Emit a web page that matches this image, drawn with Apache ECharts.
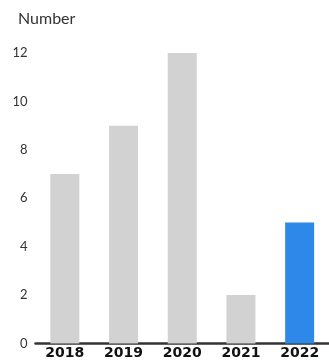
<!DOCTYPE html>
<html><head><meta charset="utf-8">
<script src="https://cdn.jsdelivr.net/npm/echarts@6/dist/echarts.min.js"></script>
<style>html,body{margin:0;padding:0;background:#fff}#c{width:329px;height:361px}</style>
</head><body><div id="c"></div>
<script>
const categories = ['2018','2019','2020','2021','2022'];
const values = [7, 9, 12, 2, 5];
const highlight = '2022';
const yTicks = [0, 2, 4, 6, 8, 10, 12];
const yName = 'Number';

const chart = echarts.init(document.getElementById('c'));
chart.setOption({
  animation: false,
  textStyle: {fontFamily: 'Lato'},
  title: {text: yName, left: 13, top: 6, textStyle: {fontSize: 16, fontWeight: 'normal', color: '#333', fontFamily: 'Lato'}},
  grid: {left: 35.5, top: 53, width: 297.5, bottom: 17.5, containLabel: false},
  xAxis: {
    type: 'category', data: categories,
    axisLine: {lineStyle: {color: '#333', width: 2.5}},
    axisTick: {show: false},
    axisLabel: {color: '#111', fontSize: 14, fontWeight: 'bold', margin: 3, fontFamily: 'DejaVu Sans'}
  },
  yAxis: {
    type: 'value', min: yTicks[0], max: yTicks[yTicks.length-1], interval: 2,
    axisLine: {show: false}, axisTick: {show: false}, splitLine: {show: false},
    axisLabel: {color: '#333', fontSize: 13, margin: 8, fontFamily: 'Lato'}
  },
  series: [{
    type: 'bar', barWidth: 29,
    data: values.map((v, i) => ({value: v, itemStyle: {color: categories[i] === highlight ? '#2E88EA' : '#D2D2D2'}}))
  }]
});
</script></body></html>
